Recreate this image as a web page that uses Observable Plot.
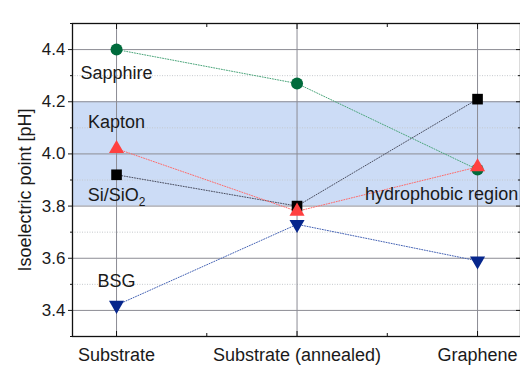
<!DOCTYPE html>
<html>
<head>
<meta charset="utf-8">
<script src="https://cdn.jsdelivr.net/npm/d3@7"></script>
<script src="https://cdn.jsdelivr.net/npm/@observablehq/plot@0.6"></script>
<style>
  body { margin: 0; background: #fff; }
  #chart svg {
    display: block;
    background: linear-gradient(#f0ffff, #f0ffff) no-repeat 11px 10px / 509px 358px, #ffffff;
  }
</style>
</head>
<body>
<div id="chart"></div>
<script>
// ---- data ----
const categories = ["Substrate", "Substrate (annealed)", "Graphene"];
const sapphire = [4.40, 4.27, 3.94];
const kapton = [4.02, 3.78, 3.95];
const siSiO2 = [3.92, 3.80, 4.21];
const bsg = [3.42, 3.73, 3.59];
const seriesNames = ["Sapphire", "Si/SiO2", "Kapton", "BSG"];
const yMajorTicks = [3.4, 3.6, 3.8, 4.0, 4.2, 4.4];
const yMinorTicks = [3.3, 3.5, 3.7, 3.9, 4.1, 4.3, 4.5];
const xMinorTicks = [0.5, 1.5];
const hydrophobicBand = [3.8, 4.2];
const bandLabel = "hydrophobic region";
const yLabel = "Isoelectric point [pH]";
// label anchor values (category index, pH), in seriesNames order
const labelX = [0, 0, 0, 0];
const labelY = [4.31, 3.84, 4.12, 3.51];

// ---- styling ----
const styles = {
  "Sapphire": {values: sapphire, fill: "#006b3c", line: "#4aa57a", symbol: "circle", r: 6, rotate: 0},
  "Si/SiO2": {values: siSiO2, fill: "#000000", line: "#4a4e60", symbol: "square", r: 6, rotate: 0},
  "Kapton": {values: kapton, fill: "#ff4040", line: "#ff6a6a", symbol: "triangle", r: 5.6, rotate: 0},
  "BSG": {values: bsg, fill: "#06268c", line: "#4462b4", symbol: "triangle", r: 5.6, rotate: 180}
};

const font = "'Liberation Sans', Arial, sans-serif";
const marks = [];

// band
marks.push(Plot.rectY([{y1: hydrophobicBand[0], y2: hydrophobicBand[1]}], {
  y1: "y1", y2: "y2", fill: "#ccdcf6"
}));
// gridlines
marks.push(Plot.gridY(yMinorTicks, {stroke: "#c4c8cc", strokeOpacity: 1, strokeDasharray: "1,1.5"}));
marks.push(Plot.gridY(yMajorTicks, {stroke: "#8c8c94", strokeOpacity: 1}));
marks.push(Plot.gridX([0, 1, 2], {stroke: "#8c8c94", strokeOpacity: 1}));

// lines
for (const name of seriesNames) {
  const s = styles[name];
  const data = s.values.map((v, i) => ({x: i, y: v}));
  marks.push(Plot.line(data, {x: "x", y: "y", stroke: s.line, strokeWidth: 1, strokeDasharray: "1,1.6"}));
}
// dots
for (const name of seriesNames) {
  const s = styles[name];
  const data = s.values.map((v, i) => ({x: i, y: v}));
  marks.push(Plot.dot(data, {x: "x", y: "y", fill: s.fill, stroke: "none", symbol: s.symbol, r: s.r, rotate: s.rotate}));
}

// series labels
marks.push(Plot.text(seriesNames.map((n, i) => ({x: labelX[i], y: labelY[i], t: n})), {
  x: "x", y: "y", text: "t", fontSize: 18, fill: "#1a1a1a", textAnchor: "middle"
}));
marks.push(Plot.text([{x: 2.225, y: (hydrophobicBand[0] + 3.89) / 2, t: bandLabel}], {
  x: "x", y: "y", text: "t", fontSize: 18, fill: "#1a1a1a", textAnchor: "end"
}));

// axes
const tickOnly = {fill: "none", label: null, stroke: "#111"};
marks.push(Plot.axisY({anchor: "left", ticks: yMajorTicks, tickSize: 4, tickPadding: 3, tickFormat: d3.format(".1f"), fontSize: 17, label: null, color: "#1a1a1a"}));
marks.push(Plot.axisY({anchor: "left", ticks: yMinorTicks, tickSize: 2, ...tickOnly}));
marks.push(Plot.axisY({anchor: "right", ticks: yMajorTicks, tickSize: -5, ...tickOnly}));
marks.push(Plot.axisY({anchor: "right", ticks: yMinorTicks, tickSize: -3, ...tickOnly}));
marks.push(Plot.axisX({anchor: "bottom", ticks: [0, 1, 2], tickSize: 0, tickPadding: 12, tickFormat: i => categories[i], fontSize: 18, label: null, color: "#1a1a1a"}));
marks.push(Plot.axisX({anchor: "bottom", ticks: [0, 1, 2], tickSize: -5, ...tickOnly}));
marks.push(Plot.axisX({anchor: "bottom", ticks: xMinorTicks, tickSize: -3, ...tickOnly}));
marks.push(Plot.axisX({anchor: "top", ticks: [0, 1, 2], tickSize: -5, ...tickOnly}));
marks.push(Plot.axisX({anchor: "top", ticks: xMinorTicks, tickSize: -3, ...tickOnly}));
marks.push(Plot.frame({stroke: "#111", strokeWidth: 1.3}));
// y axis title
marks.push(Plot.text([yLabel], {
  frameAnchor: "left", text: d => d, rotate: -90, dx: -47, dy: 10, fontSize: 18, fill: "#1a1a1a", textAnchor: "middle"
}));

const chart = Plot.plot({
  width: 520,
  height: 368,
  marginLeft: 72,
  marginTop: 23,
  marginRight: 0,
  marginBottom: 32,
  style: {fontFamily: font, background: "transparent", overflow: "visible"},
  x: {type: "linear", domain: [-0.244, 2.238], axis: null},
  y: {domain: [3.3, 4.5], axis: null},
  marks
});

// subscript for Si/SiO2
d3.select(chart).selectAll("text").filter(function () { return this.textContent === "Si/SiO2"; })
  .each(function () {
    const t = d3.select(this);
    t.text("Si/SiO");
    t.append("tspan").attr("dy", "0.35em").attr("font-size", "12").text("2");
  });

document.getElementById("chart").appendChild(chart);
</script>
</body>
</html>
